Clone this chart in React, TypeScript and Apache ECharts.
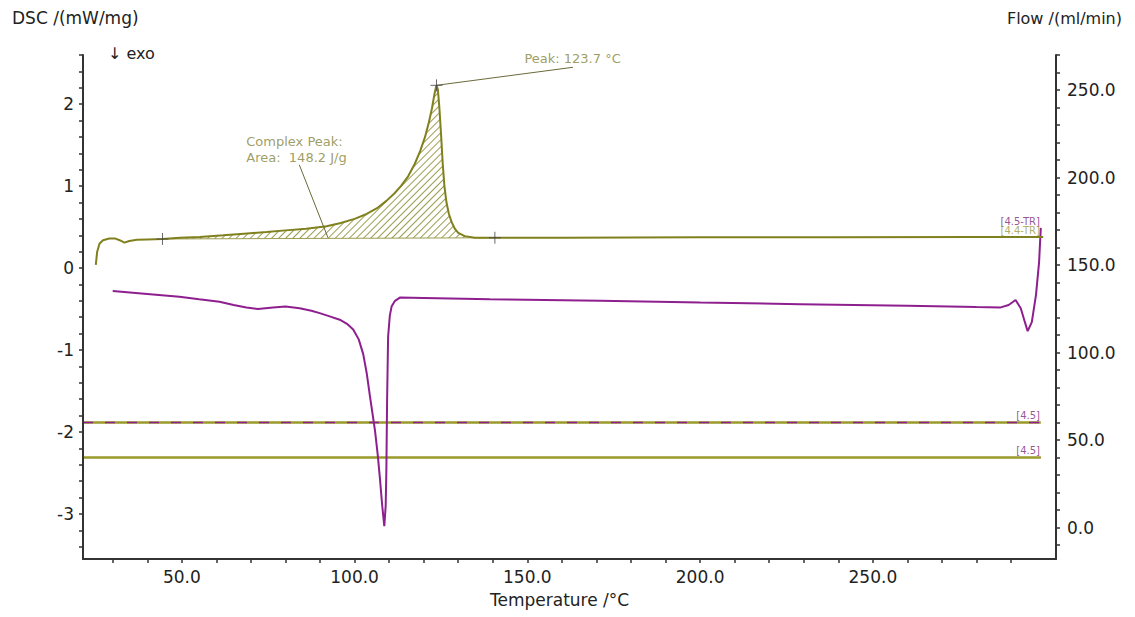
import React, { useEffect, useRef } from 'react';
import * as echarts from 'echarts';

// ---- Data ----
const tempTicks = [30, 40, 50, 60, 70, 80, 90, 100, 110, 120, 130, 140, 150, 160, 170, 180, 190, 200, 210, 220, 230, 240, 250, 260, 270, 280, 290];
const tempLabels = [50, 100, 150, 200, 250];
const dscTicks = [-3.4, -3.2, -3, -2.8, -2.6, -2.4, -2.2, -2, -1.8, -1.6, -1.4, -1.2, -1, -0.8, -0.6, -0.4, -0.2, 0, 0.2, 0.4, 0.6, 0.8, 1, 1.2, 1.4, 1.6, 1.8, 2, 2.2, 2.4, 2.6];
const dscLabels = [-3, -2, -1, 0, 1, 2];
const flowTicks = [-10, 0, 10, 20, 30, 40, 50, 60, 70, 80, 90, 100, 110, 120, 130, 140, 150, 160, 170, 180, 190, 200, 210, 220, 230, 240, 250, 260, 270];
const flowLabels = [0, 50, 100, 150, 200, 250];

// Sample 4.4 (olive) DSC
const olive44T = [25.1, 25.5, 26.2, 27.2, 29.0, 30.8, 32.0, 33.4, 34.8, 37.0, 40.0, 44.4, 49.4, 55.2, 62.0, 68.0, 74.5, 80.0, 86.0, 91.9, 96.0, 100.0, 103.5, 106.5, 109.2, 111.5, 113.4, 115.5, 117.4, 119.0, 120.4, 121.5, 122.4, 123.1, 123.7, 124.1, 124.5, 125.0, 125.5, 126.0, 126.6, 127.3, 128.1, 129.0, 130.0, 131.9, 134.8, 140.6, 160, 200, 240, 280, 299.3];
const olive44V = [0.04, 0.2, 0.3, 0.34, 0.36, 0.36, 0.34, 0.31, 0.33, 0.345, 0.35, 0.355, 0.37, 0.38, 0.4, 0.42, 0.44, 0.46, 0.48, 0.51, 0.55, 0.6, 0.66, 0.73, 0.82, 0.91, 1.0, 1.12, 1.27, 1.43, 1.6, 1.78, 1.95, 2.12, 2.23, 2.18, 1.98, 1.65, 1.28, 1.0, 0.8, 0.66, 0.56, 0.48, 0.43, 0.39, 0.37, 0.37, 0.37, 0.375, 0.375, 0.38, 0.38];

// Sample 4.5 (purple) DSC
const purple45T = [30.0, 40.0, 49.3, 55.0, 60.9, 65.0, 68.7, 72.0, 76.4, 80.0, 84.1, 87.5, 89.9, 92.8, 95.7, 97.8, 99.6, 101.2, 102.5, 103.5, 104.4, 105.2, 105.9, 106.7, 107.3, 108.0, 108.6, 109.0, 109.2, 109.4, 109.7, 110.2, 110.7, 111.7, 113.1, 120, 139.2, 171.1, 200, 229, 260, 280, 287.0, 289.3, 291.3, 292.8, 294.0, 294.8, 296.0, 297.2, 298.1, 298.6];
const purple45V = [-0.28, -0.315, -0.35, -0.38, -0.41, -0.45, -0.48, -0.5, -0.48, -0.47, -0.49, -0.52, -0.55, -0.59, -0.63, -0.68, -0.75, -0.87, -1.05, -1.28, -1.55, -1.78, -1.98, -2.28, -2.55, -2.9, -3.15, -2.9, -2.46, -1.65, -0.84, -0.58, -0.47, -0.4, -0.36, -0.365, -0.38, -0.4, -0.42, -0.44, -0.46, -0.475, -0.48, -0.45, -0.39, -0.49, -0.66, -0.77, -0.66, -0.33, 0.07, 0.49];

// Flow (ml/min)
const flowT = [21.4, 298.6];
const flow44High = [60, 60];
const flow45High = [60, 60];
const flow44Low = [40, 40];
const flow45Low = [40, 40];

// Peak evaluation
const peakStartT = 44.4;
const peakStartV = 0.355;
const peakEndT = 140.6;
const peakEndV = 0.37;
const peakT = 123.7;
const peakV = 2.23;
const peakLabel = 'Peak: 123.7 °C';
const areaLabel = 'Complex Peak:\nArea:  148.2 J/g';
const peakLabelAt = [149.3, 2.55];
const areaLabelAt = [68.8, 1.44];
const peakLeader = [[123.7, 2.23], [163.2, 2.45]];
const areaLeader = [[84.0, 1.26], [92.3, 0.37]];
const trLabels = [
  { text: '[4.5-TR]', t: 298.5, v: 0.56, color: '#7a2a7a' },
  { text: '[4.4-TR]', t: 298.5, v: 0.45, color: '#9a9a3c' },
];
const flowLabelT = 298.5;
const flowLabelsAt = [63.7, 43.7];

const OLIVE = '#80801e';
const OLIVE_FLOW = '#9a9a2a';
const PURPLE = '#8e1f8e';
const TEXT_OLIVE = '#85853a';
const HATCH = '#9c9c50';
const AXIS = '#333333';
const FONT = '"DejaVu Sans", "Liberation Sans", Arial, sans-serif';

export default function App() {
  const ref = useRef<HTMLDivElement>(null);

  useEffect(() => {
    if (!ref.current) return;
    const chart = echarts.init(ref.current, undefined, { renderer: 'svg' });

    const olivePts = olive44T.map((t, i) => [t, olive44V[i]]);
    const purplePts = purple45T.map((t, i) => [t, purple45V[i]]);
    const hatchPts = olivePts.filter(([t]) => t >= peakStartT && t <= peakEndT);

    const axisLabelBase = { color: '#222', fontSize: 17, fontFamily: FONT };

    const option: any = {
      animation: false,
      backgroundColor: '#ffffff',
      grid: { left: 83, right: 79, top: 55, bottom: 58, containLabel: false, outerBoundsMode: 'none' },
      xAxis: {
        type: 'value',
        min: 21.4,
        max: 303,
        z: 20,
        axisLine: { show: true, onZero: false, lineStyle: { color: AXIS, width: 2 } },
        axisTick: { show: true, customValues: tempTicks, length: 4, lineStyle: { color: AXIS, width: 1.5 } },
        axisLabel: { ...axisLabelBase, show: true, customValues: tempLabels, formatter: (v: number) => v.toFixed(1), margin: 9 },
        splitLine: { show: false },
      },
      yAxis: [
        {
          type: 'value',
          min: -3.55,
          max: 2.6,
          position: 'left',
          z: 20,
          axisLine: { show: true, onZero: false, lineStyle: { color: AXIS, width: 2 } },
          axisTick: { show: true, customValues: dscTicks, length: 4, lineStyle: { color: AXIS, width: 1.5 } },
          axisLabel: { ...axisLabelBase, show: true, customValues: dscLabels, formatter: (v: number) => String(Math.round(v)), margin: 9 },
          splitLine: { show: false },
        },
        {
          type: 'value',
          min: -18,
          max: 270,
          position: 'right',
          z: 20,
          axisLine: { show: true, onZero: false, lineStyle: { color: AXIS, width: 2 } },
          axisTick: { show: true, customValues: flowTicks, length: 4, lineStyle: { color: AXIS, width: 1.5 } },
          axisLabel: { ...axisLabelBase, show: true, customValues: flowLabels, formatter: (v: number) => v.toFixed(1), margin: 11 },
          splitLine: { show: false },
        },
      ],
      graphic: [
        { type: 'text', left: 12, top: 9, style: { text: 'DSC /(mW/mg)', font: `17px ${FONT}`, fill: '#222' } },
        { type: 'text', right: 13, top: 10, style: { text: 'Flow /(ml/min)', font: `16px ${FONT}`, fill: '#222' } },
        { type: 'text', left: 108, top: 45, style: { text: '↓ exo', font: `16px ${FONT}`, fill: '#222' } },
        { type: 'text', left: 490, top: 591, style: { text: 'Temperature /°C', font: `17px ${FONT}`, fill: '#222' } },
      ],
      series: [
        // hatched peak area
        {
          type: 'line',
          name: 'hatch',
          data: hatchPts,
          yAxisIndex: 0,
          showSymbol: false,
          silent: true,
          z: 1,
          lineStyle: { width: 0 },
          areaStyle: { origin: peakStartV, color: '#ffffff', opacity: 1 },
          itemStyle: {
            decal: {
              symbol: 'rect',
              symbolSize: 1,
              dashArrayX: [1, 0],
              dashArrayY: [1, 4],
              rotation: -Math.PI / 4,
              color: HATCH,
            },
          },
        },
        // area under integration baseline (blanks the hatch below the baseline)
        {
          type: 'line',
          name: 'baseline',
          data: [[peakStartT, peakStartV], [peakEndT, peakEndV]],
          yAxisIndex: 0,
          showSymbol: false,
          silent: true,
          z: 2,
          lineStyle: { width: 1, color: HATCH },
          areaStyle: { origin: 'start', color: '#ffffff', opacity: 1 },
        },
        // flow lines
        {
          type: 'line', name: 'flow44High', yAxisIndex: 1, z: 3, showSymbol: false,
          data: flowT.map((t, i) => [t, flow44High[i]]),
          lineStyle: { color: OLIVE_FLOW, width: 2.5 },
        },
        {
          type: 'line', name: 'flow45High', yAxisIndex: 1, z: 4, showSymbol: false,
          data: flowT.map((t, i) => [t, flow45High[i]]),
          lineStyle: { color: PURPLE, width: 1.5, type: [10, 12] },
        },
        {
          type: 'line', name: 'flow45Low', yAxisIndex: 1, z: 3, showSymbol: false,
          data: flowT.map((t, i) => [t, flow45Low[i]]),
          lineStyle: { color: PURPLE, width: 1 },
        },
        {
          type: 'line', name: 'flow44Low', yAxisIndex: 1, z: 4, showSymbol: false,
          data: flowT.map((t, i) => [t, flow44Low[i]]),
          lineStyle: { color: OLIVE_FLOW, width: 2.5 },
        },
        // DSC curves
        {
          type: 'line', name: 'DSC 4.5', yAxisIndex: 0, z: 5, showSymbol: false,
          data: purplePts,
          lineStyle: { color: PURPLE, width: 2 },
        },
        {
          type: 'line', name: 'DSC 4.4', yAxisIndex: 0, z: 6, showSymbol: false,
          data: olivePts,
          lineStyle: { color: OLIVE, width: 2 },
        },
        // leader lines
        {
          type: 'line', name: 'peakLeader', yAxisIndex: 0, z: 6, showSymbol: false, silent: true,
          data: peakLeader,
          lineStyle: { color: '#6a6a3a', width: 1 },
        },
        {
          type: 'line', name: 'areaLeader', yAxisIndex: 0, z: 6, showSymbol: false, silent: true,
          data: areaLeader,
          lineStyle: { color: '#6a6a3a', width: 1 },
        },
        // evaluation markers (+)
        {
          type: 'scatter', name: 'markers', yAxisIndex: 0, z: 7, silent: true,
          symbol: 'path://M0,6L12,6M6,0L6,12',
          symbolSize: 12,
          itemStyle: { color: 'rgba(0,0,0,0)', borderColor: '#444', borderWidth: 1 },
          data: [[peakStartT, peakStartV], [peakT, peakV], [peakEndT, peakEndV]],
        },
        // text annotations
        {
          type: 'scatter', name: 'annotations', yAxisIndex: 0, z: 8, silent: true,
          symbolSize: 1,
          itemStyle: { color: 'rgba(0,0,0,0)' },
          data: [
            { value: peakLabelAt, label: { formatter: peakLabel } },
            { value: areaLabelAt, label: { formatter: areaLabel, lineHeight: 16 } },
          ],
          label: {
            show: true,
            position: [0, 0],
            align: 'left',
            verticalAlign: 'middle',
            color: TEXT_OLIVE,
            fontSize: 13,
            fontFamily: FONT,
          },
        },
        {
          type: 'scatter', name: 'trLabels', yAxisIndex: 0, z: 8, silent: true,
          symbolSize: 1,
          itemStyle: { color: 'rgba(0,0,0,0)' },
          data: trLabels.map((d) => ({ value: [d.t, d.v], label: { formatter: d.text, color: d.color } })),
          label: {
            show: true,
            position: [0, 0],
            align: 'right',
            verticalAlign: 'middle',
            fontSize: 10,
            fontFamily: FONT,
          },
        },
        {
          type: 'scatter', name: 'flowLabels', yAxisIndex: 1, z: 8, silent: true,
          symbolSize: 1,
          itemStyle: { color: 'rgba(0,0,0,0)' },
          data: flowLabelsAt.map((f) => ({ value: [flowLabelT, f], label: { formatter: '[4.5]' } })),
          label: {
            show: true,
            position: [0, 0],
            align: 'right',
            verticalAlign: 'middle',
            color: '#7a2a7a',
            fontSize: 10,
            fontFamily: FONT,
          },
        },
      ],
    };

    chart.setOption(option);
    return () => chart.dispose();
  }, []);

  return (
    <div
      ref={ref}
      style={{ position: 'fixed', left: 0, top: 0, width: '1135px', height: '617px', background: '#fff' }}
    />
  );
}
